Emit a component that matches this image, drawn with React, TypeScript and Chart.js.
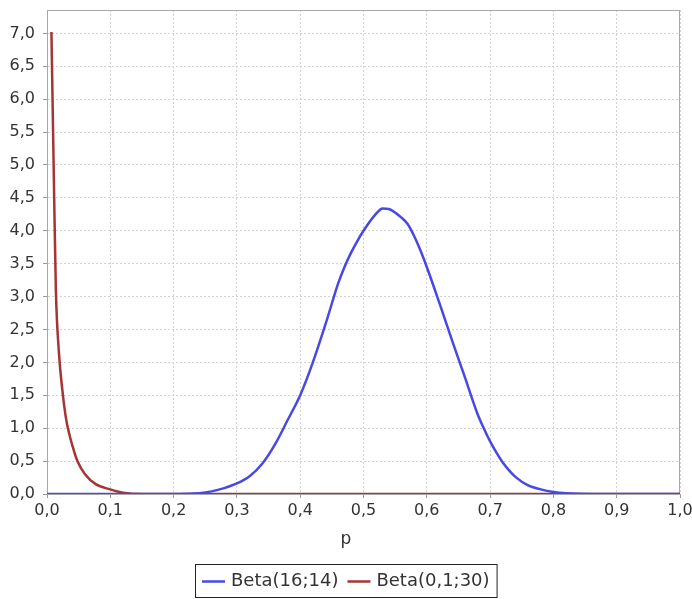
import React, { useEffect, useRef } from "react";
import { Chart, registerables } from "chart.js";

Chart.register(...registerables);

// Beta(16;14) density
const pBlue = [0, 0.1, 0.2, 0.22, 0.24, 0.26, 0.28, 0.3, 0.32, 0.34, 0.36, 0.38, 0.4, 0.42, 0.44, 0.46, 0.47, 0.48, 0.49, 0.5, 0.52, 0.53, 0.54, 0.56, 0.57, 0.58, 0.59, 0.6, 0.62, 0.64, 0.66, 0.68, 0.69, 0.7, 0.71, 0.72, 0.73, 0.74, 0.76, 0.78, 0.8, 0.82, 0.84, 0.9, 1.0];
const densBlue = [0, 0, 0, 0.003, 0.012, 0.04, 0.09, 0.16, 0.27, 0.46, 0.75, 1.12, 1.5, 2.0, 2.58, 3.2, 3.45, 3.66, 3.84, 4.0, 4.26, 4.34, 4.33, 4.2, 4.1, 3.92, 3.7, 3.45, 2.9, 2.33, 1.78, 1.22, 1.0, 0.8, 0.63, 0.48, 0.36, 0.26, 0.13, 0.07, 0.03, 0.01, 0.003, 0, 0];

// Beta(0,1;30) density
const pRed = [0.007, 0.011, 0.014, 0.019, 0.024, 0.03, 0.035, 0.04, 0.048, 0.06, 0.077, 0.1, 0.12, 0.15, 0.3, 0.6, 1.0];
const densRed = [7.02, 4.7, 3.1, 2.13, 1.6, 1.15, 0.92, 0.74, 0.5, 0.3, 0.15, 0.07, 0.02, 0, 0, 0, 0];

const seriesLabels = ["Beta(16;14)", "Beta(0,1;30)"];
const seriesColors = ["rgb(72,72,228)", "rgb(165,52,52)"];
const xAxisTitle = "p";
const xMin = 0;
const xMax = 1;
const xStep = 0.1;
const yMin = 0;
const yMax = 7.355;
const yStep = 0.5;

const FONT = "'DejaVu Sans', sans-serif";
const TEXT = "#333";

export default function App() {
  const ref = useRef<HTMLCanvasElement>(null);

  useEffect(() => {
    const canvas = ref.current!;
    const fmt = (v: any) => Number(v).toFixed(1).replace(".", ",");

    const framePlugin = {
      id: "frame",
      beforeDatasetsDraw(chart: any) {
        const { ctx, chartArea: a } = chart;
        ctx.save();
        ctx.strokeStyle = "#a8a8a8";
        ctx.lineWidth = 1;
        ctx.strokeRect(a.left + 0.5, a.top + 0.5, a.right - a.left - 1, a.bottom - a.top);
        ctx.restore();
      },
      afterDraw(chart: any) {
        const { ctx } = chart;
        const cx = chart.width / 2;
        ctx.save();
        // axis title
        ctx.fillStyle = TEXT;
        ctx.font = `17px ${FONT}`;
        ctx.textAlign = "center";
        ctx.textBaseline = "alphabetic";
        ctx.fillText(xAxisTitle, cx, 544);
        // legend
        ctx.font = `18px ${FONT}`;
        const w = seriesLabels.map((l) => ctx.measureText(l).width);
        const pad = 7, line = 23, gapLT = 6, gapItems = 9;
        const total = pad * 2 + (line + gapLT) * 2 + w[0] + w[1] + gapItems;
        const left = Math.round(cx - total / 2);
        const top = 564;
        const h = 33;
        ctx.strokeStyle = "#222";
        ctx.lineWidth = 1;
        ctx.strokeRect(left + 0.5, top + 0.5, total, h);
        let x = left + pad;
        const cy = top + h / 2 + 1;
        ctx.textAlign = "left";
        ctx.textBaseline = "middle";
        seriesLabels.forEach((lab, i) => {
          ctx.strokeStyle = seriesColors[i];
          ctx.lineWidth = 2.5;
          ctx.beginPath();
          ctx.moveTo(x, cy);
          ctx.lineTo(x + line, cy);
          ctx.stroke();
          x += line + gapLT;
          ctx.fillStyle = TEXT;
          ctx.fillText(lab, x, cy);
          x += w[i] + gapItems;
        });
        ctx.restore();
      },
    };

    const chart = new Chart(canvas, {
      type: "line",
      data: {
        datasets: [
          {
            label: seriesLabels[0],
            data: pBlue.map((p, i) => ({ x: p, y: densBlue[i] })),
            borderColor: seriesColors[0],
            backgroundColor: seriesColors[0],
            borderWidth: 2.5,
            pointRadius: 0,
            cubicInterpolationMode: "monotone",
            fill: false,
          },
          {
            label: seriesLabels[1],
            data: pRed.map((p, i) => ({ x: p, y: densRed[i] })),
            borderColor: seriesColors[1],
            backgroundColor: seriesColors[1],
            borderWidth: 2.5,
            pointRadius: 0,
            cubicInterpolationMode: "monotone",
            fill: false,
          },
        ],
      },
      options: {
        responsive: false,
        animation: false,
        devicePixelRatio: 1,
        layout: { padding: { left: 0, right: 12, top: 10, bottom: 0 } },
        plugins: { legend: { display: false }, tooltip: { enabled: false } },
        scales: {
          x: {
            type: "linear",
            min: xMin,
            max: xMax,
            grid: { color: "#d2d2d2", lineWidth: 1, tickLength: 4, tickColor: "#999" },
            border: { display: true, color: "#a8a8a8", dash: [2, 2] },
            ticks: {
              stepSize: xStep,
              padding: 3,
              color: TEXT,
              font: { family: FONT, size: 16 },
              maxRotation: 0,
              autoSkip: false,
              includeBounds: false,
              callback: (v: any) => fmt(v),
            },
            afterFit: (s: any) => {
              s.height = 105;
              s.paddingLeft = 0;
              s.paddingRight = 0;
            },
          },
          y: {
            type: "linear",
            min: yMin,
            max: yMax,
            grid: { color: "#d2d2d2", lineWidth: 1, tickLength: 4, tickColor: "#999" },
            border: { display: true, color: "#a8a8a8", dash: [2, 2] },
            ticks: {
              stepSize: yStep,
              padding: 8,
              color: TEXT,
              font: { family: FONT, size: 16 },
              autoSkip: false,
              includeBounds: false,
              callback: (v: any) => fmt(v),
            },
            afterFit: (s: any) => {
              s.width = 47;
              s.paddingTop = 0;
              s.paddingBottom = 0;
            },
          },
        },
      },
      plugins: [framePlugin],
    } as any);

    return () => chart.destroy();
  }, []);

  return (
    <div style={{ position: "fixed", left: 0, top: 0, width: 692, height: 599, background: "#fff" }}>
      <canvas ref={ref} width={692} height={599} style={{ display: "block", width: 692, height: 599 }} />
    </div>
  );
}
